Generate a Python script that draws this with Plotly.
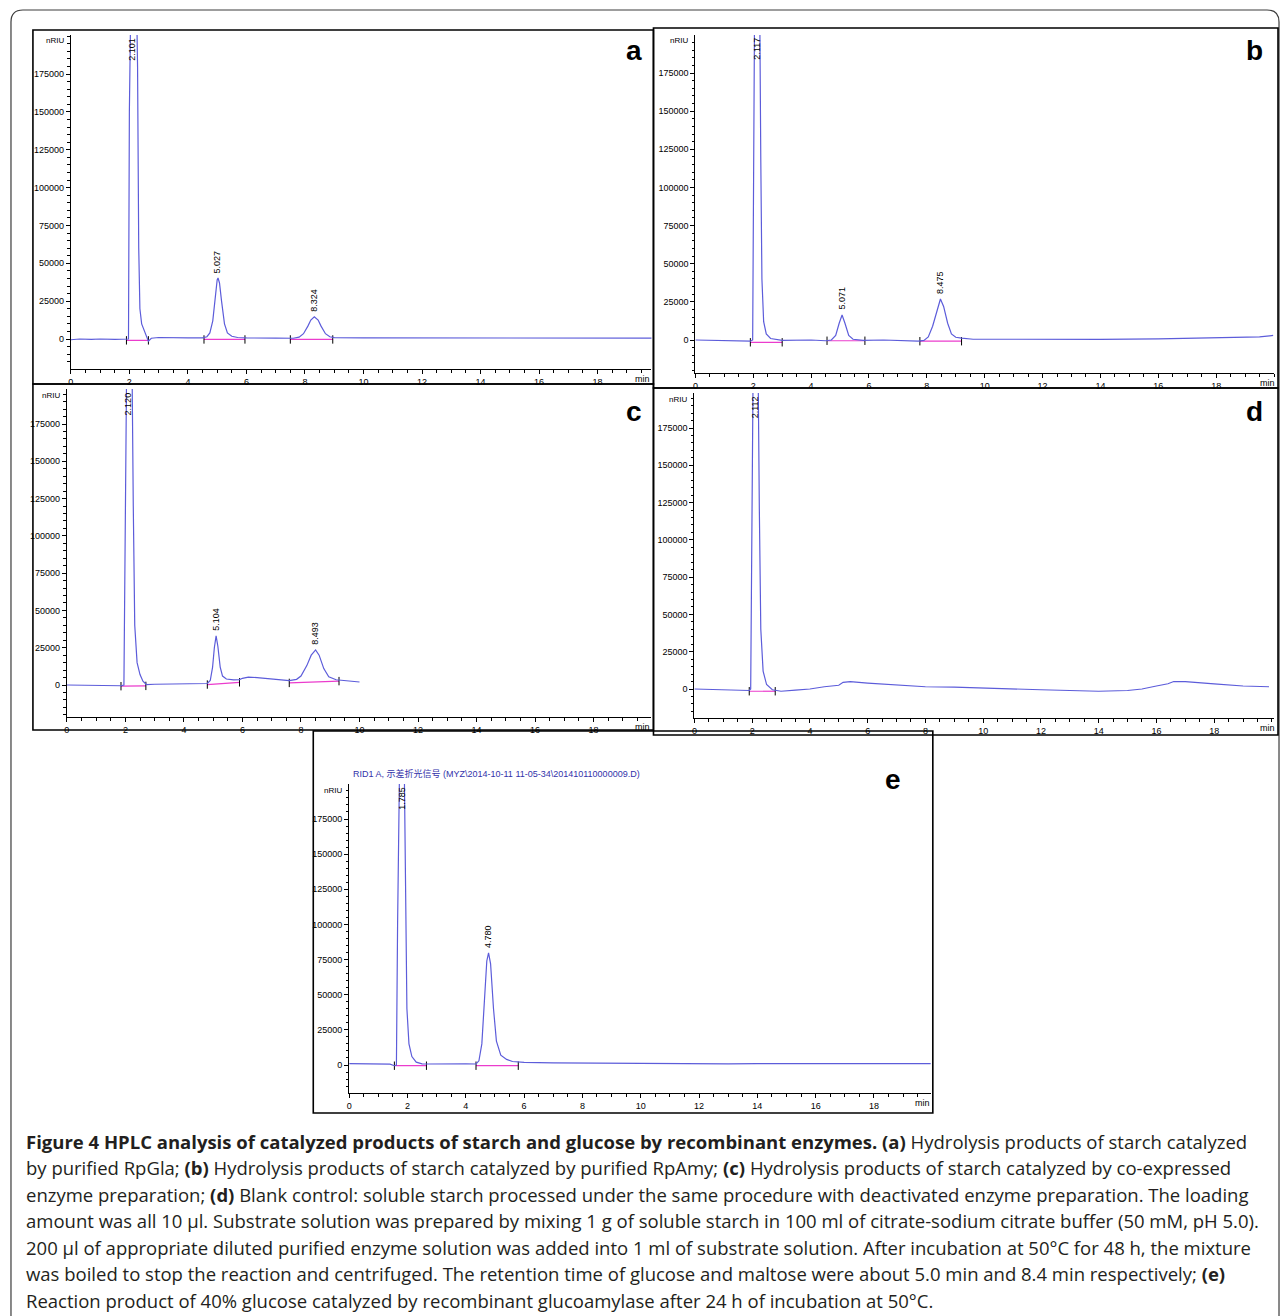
import plotly.graph_objects as go

W, H = 1282, 1316

# ---------------- data ----------------
x_ticks = [0, 2, 4, 6, 8, 10, 12, 14, 16, 18]
y_ticks = [0, 25000, 50000, 75000, 100000, 125000, 150000, 175000]

# panel a
a_time = [0, 0.3, 0.7, 1.0, 1.5, 1.9, 1.97, 2.0, 2.02, 2.1, 2.24, 2.28, 2.32, 2.36, 2.42, 2.5, 2.58, 2.65, 2.75, 3.0,
          4.0, 4.5, 4.65, 4.75, 4.85, 4.93, 5.0, 5.03, 5.08, 5.15, 5.25, 5.35, 5.5, 5.7, 6.0, 7.0, 7.6, 7.8, 7.95,
          8.1, 8.2, 8.32, 8.45, 8.55, 8.7, 8.85, 9.0, 10, 12, 14, 16, 18, 19.9]
a_signal = [-500, 0, -300, 0, -200, -300, 0, 150000, 220000, 300000, 230000, 180000, 60000, 20000, 10000, 6000, 1000,
            -1500, 500, 1000, 700, 700, 1500, 4000, 12000, 28000, 39000, 40300, 37000, 25000, 10000, 4000, 1800, 1000,
            700, 600, 500, 1200, 3500, 8500, 12500, 14700, 12500, 8500, 3500, 1500, 900, 700, 600, 500, 600, 500, 600]
a_base_t0 = [1.9, 4.55, 7.5]
a_base_t1 = [2.65, 5.95, 8.95]
a_base_y0 = [-900, -300, -300]
a_base_y1 = [-900, -300, -300]
a_peak_time = [2.101, 5.027, 8.324]
a_peak_height = [None, 40300, 14700]
a_peak_text = ["2.101", "5.027", "8.324"]

# panel b
b_time = [0, 1.0, 1.9, 1.98, 2.02, 2.05, 2.12, 2.22, 2.26, 2.3, 2.36, 2.45, 2.6, 3.0, 4.0, 4.5, 4.7, 4.85, 4.97,
          5.07, 5.17, 5.3, 5.45, 5.8, 6.5, 7.0, 7.7, 7.9, 8.05, 8.2, 8.35, 8.47, 8.58, 8.72, 8.85, 9.0, 9.2, 9.6,
          10.5, 12, 14, 16, 18, 19.5, 19.97]
b_signal = [0, -300, -800, 0, 150000, 230000, 300000, 230000, 120000, 40000, 12000, 4000, 1000, -200, 0, -500, 0,
            3000, 11000, 16400, 11000, 3000, 500, -300, 0, -300, -700, -300, 2000, 9000, 20000, 26900, 22000, 11000,
            4000, 1800, 1200, 500, 500, 300, 400, 700, 1200, 2000, 3000]
b_base_t0 = [1.9, 4.55, 7.76]
b_base_t1 = [3.0, 5.86, 9.2]
b_base_y0 = [-1500, -500, -800]
b_base_y1 = [-1500, -500, -800]
b_peak_time = [2.117, 5.071, 8.475]
b_peak_height = [None, 16400, 26900]
b_peak_text = ["2.117", "5.071", "8.475"]

# panel c
c_time = [0, 1.0, 1.85, 1.95, 2.0, 2.05, 2.12, 2.22, 2.27, 2.32, 2.4, 2.5, 2.6, 2.72, 3.0, 4.0, 4.8, 4.9, 4.98,
          5.04, 5.1, 5.16, 5.24, 5.32, 5.45, 5.7, 5.9, 6.0, 6.2, 6.5, 7.0, 7.6, 7.85, 8.0, 8.2, 8.35, 8.5, 8.62,
          8.78, 8.95, 9.2, 9.6, 10.0]
c_signal = [0, -200, -500, 0, 150000, 230000, 300000, 230000, 120000, 40000, 15000, 7000, 2500, 300, 500, 800,
            1000, 3000, 12000, 25000, 32900, 26000, 12000, 6000, 4000, 3500, 3600, 4500, 5300, 5000, 4000, 3000,
            3800, 6000, 13000, 20000, 23500, 20000, 11000, 5500, 3500, 2800, 2000]
c_base_t0 = [1.85, 4.8, 7.6]
c_base_t1 = [2.7, 5.9, 9.3]
c_base_y0 = [-800, 300, 1400]
c_base_y1 = [-600, 1800, 2600]
c_peak_time = [2.120, 5.104, 8.493]
c_peak_height = [None, 32900, 23500]
c_peak_text = ["2.120", "5.104", "8.493"]

# panel d
d_time = [0, 1.0, 1.9, 1.95, 2.0, 2.04, 2.11, 2.2, 2.25, 2.3, 2.38, 2.5, 2.7, 3.0, 3.5, 4.0, 4.5, 5.0, 5.15, 5.4,
          6.0, 7.0, 8.0, 9.0, 10, 11, 12, 13, 14, 15, 15.5, 16.0, 16.4, 16.6, 17.0, 18, 19, 19.9]
d_signal = [0, -300, -1000, 0, 150000, 230000, 300000, 230000, 120000, 40000, 12000, 3000, -500, -1500, -800, 0,
            1500, 2500, 4500, 5000, 4000, 3000, 1500, 1200, 500, 0, -500, -1000, -1500, -1000, 0, 2000, 3500, 5000,
            5000, 3500, 2000, 1500]
d_base_t0 = [1.9]
d_base_t1 = [2.8]
d_base_y0 = [-1500]
d_base_y1 = [-1500]
d_peak_time = [2.112]
d_peak_height = [None]
d_peak_text = ["2.112"]

# panel e
e_time = [0, 0.5, 1.0, 1.4, 1.55, 1.62, 1.66, 1.7, 1.78, 1.88, 1.93, 1.98, 2.05, 2.15, 2.3, 2.5, 2.7, 3.0, 3.5,
          4.0, 4.35, 4.45, 4.55, 4.65, 4.72, 4.78, 4.85, 4.95, 5.05, 5.2, 5.4, 5.6, 5.8, 6.0, 7, 8, 10, 12, 13, 14,
          16, 17, 18, 19.95]
e_signal = [1000, 800, 1000, 600, -500, 0, 100000, 230000, 300000, 230000, 120000, 40000, 15000, 6000, 2000, 800,
            700, 800, 500, 800, 700, 3000, 15000, 50000, 74000, 79700, 72000, 40000, 17000, 7000, 4000, 2500, 2000,
            1800, 1500, 1300, 1000, 1000, 800, 1000, 1000, 500, 1000, 1000]
e_base_t0 = [1.55, 4.35]
e_base_t1 = [2.65, 5.8]
e_base_y0 = [-500, -500]
e_base_y1 = [-500, -500]
e_peak_time = [1.785, 4.780]
e_peak_height = [None, 79700]
e_peak_text = ["1.785", "4.780"]

e_header = "RID1 A, 示差折光信号 (MYZ\\2014-10-11 11-05-34\\201410110000009.D)"

caption_lines = [
    "<b>Figure 4 HPLC analysis of catalyzed products of starch and glucose by recombinant enzymes.</b> <b>(a)</b> Hydrolysis products of starch catalyzed",
    "by purified RpGla; <b>(b)</b> Hydrolysis products of starch catalyzed by purified RpAmy; <b>(c)</b> Hydrolysis products of starch catalyzed by co-expressed",
    "enzyme preparation; <b>(d)</b> Blank control: soluble starch processed under the same procedure with deactivated enzyme preparation. The loading",
    "amount was all 10 µl. Substrate solution was prepared by mixing 1 g of soluble starch in 100 ml of citrate-sodium citrate buffer (50 mM, pH 5.0).",
    "200 µl of appropriate diluted purified enzyme solution was added into 1 ml of substrate solution. After incubation at 50°C for 48 h, the mixture",
    "was boiled to stop the reaction and centrifuged. The retention time of glucose and maltose were about 5.0 min and 8.4 min respectively; <b>(e)</b>",
    "Reaction product of 40% glucose catalyzed by recombinant glucoamylase after 24 h of incubation at 50°C.",
]

# ---------------- layout geometry (pixels) ----------------
panels = [
    dict(name="a", t=a_time, s=a_signal, bt0=a_base_t0, bt1=a_base_t1, by0=a_base_y0, by1=a_base_y1,
         pt=a_peak_time, ph=a_peak_height, ptx=a_peak_text,
         box=(30, 30, 652, 384), x0=68, x18=596, y0=339, y175=74, left=68, right=650, top=35, bottom=369,
         letter=(632, 50)),
    dict(name="b", t=b_time, s=b_signal, bt0=b_base_t0, bt1=b_base_t1, by0=b_base_y0, by1=b_base_y1,
         pt=b_peak_time, ph=b_peak_height, ptx=b_peak_text,
         box=(652, 28, 1278, 388), x0=694, x18=1216, y0=340, y175=73, left=694, right=1274, top=35, bottom=373,
         letter=(1254, 50)),
    dict(name="c", t=c_time, s=c_signal, bt0=c_base_t0, bt1=c_base_t1, by0=c_base_y0, by1=c_base_y1,
         pt=c_peak_time, ph=c_peak_height, ptx=c_peak_text,
         box=(30, 384, 652, 730), x0=64, x18=592, y0=685, y175=424, left=64, right=650, top=389, bottom=717,
         letter=(632, 412)),
    dict(name="d", t=d_time, s=d_signal, bt0=d_base_t0, bt1=d_base_t1, by0=d_base_y0, by1=d_base_y1,
         pt=d_peak_time, ph=d_peak_height, ptx=d_peak_text,
         box=(652, 388, 1278, 735), x0=693, x18=1214, y0=689, y175=428, left=693, right=1274, top=393, bottom=718,
         letter=(1254, 412)),
    dict(name="e", t=e_time, s=e_signal, bt0=e_base_t0, bt1=e_base_t1, by0=e_base_y0, by1=e_base_y1,
         pt=e_peak_time, ph=e_peak_height, ptx=e_peak_text,
         box=(311, 731, 932, 1113), x0=347, x18=873, y0=1065, y175=819, left=347, right=930, top=784, bottom=1093,
         letter=(892, 779)),
]


def px(x):
    return x / W


def py(y):
    return 1 - y / H


TRACE_COLOR = "rgb(92,92,218)"
BASE_COLOR = "rgb(235,60,205)"
TICK_FONT = dict(family="Liberation Sans, Arial, sans-serif", size=9, color="black")

fig = go.Figure()
layout = dict(width=W, height=H, margin=dict(l=0, r=0, t=0, b=0), paper_bgcolor="white",
              plot_bgcolor="white", showlegend=False)
shapes = []
annotations = []

for i, p in enumerate(panels):
    k = "" if i == 0 else str(i + 1)
    xref, yref = "x" + k, "y" + k
    ppm = (p["x18"] - p["x0"]) / 18.0
    vpp = 175000.0 / (p["y0"] - p["y175"])
    xr = [(p["left"] - p["x0"]) / ppm, (p["right"] - p["x0"]) / ppm]
    yr = [-(p["bottom"] - p["y0"]) * vpp, (p["y0"] - p["top"]) * vpp]

    layout["xaxis" + k] = dict(
        domain=[px(p["left"]), px(p["right"])], range=xr, anchor=yref,
        tickmode="array", tickvals=x_ticks, ticktext=[str(v) for v in x_ticks],
        ticks="outside", ticklen=4, tickwidth=1, tickcolor="black",
        minor=dict(dtick=0.5, tick0=0, ticks="outside", ticklen=2.5, tickcolor="black"),
        showline=True, linecolor="black", linewidth=1, showgrid=False, zeroline=False,
        tickfont=TICK_FONT, fixedrange=True)
    layout["yaxis" + k] = dict(
        domain=[py(p["bottom"]), py(p["top"])], range=yr, anchor=xref,
        tickmode="array", tickvals=y_ticks, ticktext=[str(v) for v in y_ticks],
        ticks="outside", ticklen=4, tickwidth=1, tickcolor="black",
        minor=dict(dtick=5000, tick0=0, ticks="outside", ticklen=2.5, tickcolor="black"),
        showline=True, linecolor="black", linewidth=1, showgrid=False, zeroline=False,
        tickfont=TICK_FONT, fixedrange=True)

    # integration baselines
    for t0, t1, y0, y1 in zip(p["bt0"], p["bt1"], p["by0"], p["by1"]):
        fig.add_trace(go.Scatter(x=[t0, t1], y=[y0, y1], mode="lines+markers", xaxis=xref, yaxis=yref,
                                 line=dict(color=BASE_COLOR, width=1.2),
                                 marker=dict(symbol="line-ns", size=6,
                                             line=dict(color="black", width=1)),
                                 hoverinfo="skip"))
    # chromatogram
    fig.add_trace(go.Scatter(x=p["t"], y=p["s"], mode="lines", xaxis=xref, yaxis=yref,
                             line=dict(color=TRACE_COLOR, width=1.2), hoverinfo="skip"))

    # peak retention time labels
    for t, h, txt in zip(p["pt"], p["ph"], p["ptx"]):
        if h is None:
            annotations.append(dict(x=t, y=yr[1], xref=xref, yref=yref, text=txt, textangle=-90,
                                    showarrow=False, xanchor="center", yanchor="top", yshift=-1,
                                    font=dict(family="Liberation Sans, Arial", size=9, color="black")))
        else:
            annotations.append(dict(x=t, y=h, xref=xref, yref=yref, text=txt, textangle=-90,
                                    showarrow=False, xanchor="center", yanchor="bottom", yshift=3,
                                    font=dict(family="Liberation Sans, Arial", size=9, color="black")))

    # nRIU / min labels
    annotations.append(dict(x=px(p["left"] - 5), y=py(p["top"] + 6), xref="paper", yref="paper",
                            text="nRIU", showarrow=False, xanchor="right", yanchor="middle",
                            font=dict(family="Liberation Sans, Arial", size=8, color="black")))
    annotations.append(dict(x=px(p["box"][2] - 1), y=py(p["bottom"] + 10), xref="paper", yref="paper",
                            text="min", showarrow=False, xanchor="right", yanchor="middle",
                            font=dict(family="Liberation Sans, Arial", size=9, color="black")))
    # panel letter
    annotations.append(dict(x=px(p["letter"][0]), y=py(p["letter"][1]), xref="paper", yref="paper",
                            text="<b>%s</b>" % p["name"], showarrow=False, xanchor="center", yanchor="middle",
                            font=dict(family="Liberation Sans, Arial", size=28, color="black")))
    # panel box
    bx = p["box"]
    shapes.append(dict(type="rect", xref="paper", yref="paper", x0=px(bx[0]), x1=px(bx[2]),
                       y0=py(bx[3]), y1=py(bx[1]), line=dict(color="black", width=1.6), layer="above"))

# header of panel e
annotations.append(dict(x=px(349), y=py(773), xref="paper", yref="paper", text=e_header, showarrow=False,
                        xanchor="left", yanchor="middle",
                        font=dict(family="Liberation Sans, Noto Sans CJK SC, sans-serif", size=9,
                                  color="rgb(50,50,170)")))

# caption
for j, line in enumerate(caption_lines):
    annotations.append(dict(x=px(21), y=py(1141 + j * 26.5), xref="paper", yref="paper", text=line,
                            showarrow=False, xanchor="left", yanchor="middle", align="left",
                            font=dict(family="Open Sans, sans-serif", size=18.5, color="#231f20")))

# outer rounded frame
r = 12
x0f, y0f, x1f, y1f = 8, 10, 1279, 1330
path = ("M {a},{b} L {c},{b} Q {d},{b} {d},{e} L {d},{f} L {g},{f} L {g},{e} Q {g},{b} {a},{b} Z").format(
    a=px(x0f + r), b=py(y0f), c=px(x1f - r), d=px(x1f), e=py(y0f + r), f=py(y1f), g=px(x0f))
shapes.append(dict(type="path", xref="paper", yref="paper", path=path,
                   line=dict(color="rgb(60,60,60)", width=1.2), layer="below"))

layout["shapes"] = shapes
layout["annotations"] = annotations
fig.update_layout(**layout)
fig.write_html("out.html", config={"displayModeBar": False},
               post_script="document.body.style.margin='0';document.body.style.overflow='hidden';")
